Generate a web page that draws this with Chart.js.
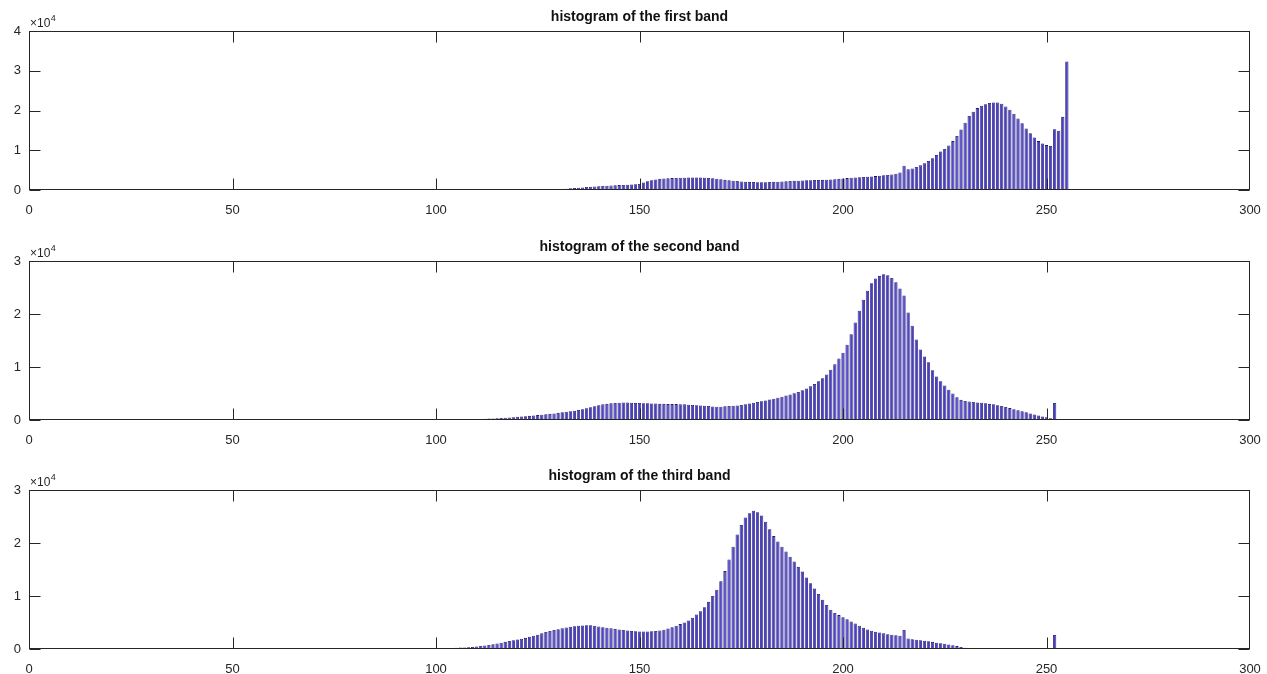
<!DOCTYPE html>
<html>
<head>
<meta charset="utf-8">
<script src="https://cdn.jsdelivr.net/npm/chart.js@4/dist/chart.umd.min.js"></script>
<style>
  html, body { margin: 0; padding: 0; background: #fff; width: 1267px; height: 674px; overflow: hidden; }
  canvas { position: absolute; left: 0; display: block; }
</style>
</head>
<body>
<canvas id="c1" width="1267" height="215" style="top:0px"></canvas>
<canvas id="c2" width="1267" height="215" style="top:230px"></canvas>
<canvas id="c3" width="1267" height="215" style="top:459px"></canvas>
<script>
// ---- data ----
const titles = ["histogram of the first band", "histogram of the second band", "histogram of the third band"];
const xTickLabels = [0, 50, 100, 150, 200, 250, 300];
const yMaxes = [40000, 30000, 30000];

// band 1: values for gray levels starting at band1Start
const band1Start = 127;
const band1Values = [
  80,120,170,220,280,340,420,500,580,660,740,820,900,960,1020,1080,1130,1180,1230,1280,1330,1380,1430, // 127-149
  1500,1900,2200,2450,2650,2800,2900,2950,3000,3050,3100,3100,3150,3150,3150,3150,3100,3050,2950,2850, // 150-169
  2700,2550,2450,2350,2250,2150,2100,2050,2000,1950,1950,1950,2000,2050,2100,2150,2200,2250,2300,2350, // 170-189
  2400,2450,2450,2500,2500,2550,2600,2650,2700,2800,2900,3000,3100,3150,3200,3300,3350,3400,3500,3600, // 190-209
  3700,3800,3900,4100,4400,6100,5200,5400,5800,6200,6700,7300,8000,8800,9700,10300,11200,12300,13600,15200, // 210-229
  16900,18600,19700,20600,21200,21600,21900,22000,22000,21700,21000,20200,19200,18000,16800,15500,14300,13200,12300,11700, // 230-249
  11300,11100,15300,14900,18400,32300 // 250-255
];

const band2Start = 105;
const band2Values = [
  50,80,100,120,150, // 105-109
  180,200,230,260,300,340,380,430,480,540, // 110-119
  600,660,720,780,850,920,1000,1080,1160,1250, // 120-129
  1350,1450,1550,1650,1750,1900,2050,2200,2400,2600, // 130-139
  2800,2950,3050,3150,3200,3250,3300,3300,3250,3200, // 140-149
  3200,3150,3150,3100,3100,3050,3050,3000,3000,3000, // 150-159
  2950,2950,2900,2850,2800,2750,2700,2650,2550,2500, // 160-169
  2500,2600,2650,2700,2750,2850,2950,3100,3250,3400, // 170-179
  3550,3700,3850,4000,4200,4400,4600,4800,5050,5300, // 180-189
  5600,5950,6350,6800,7300,7900,8600,9500,10500,11600, // 190-199
  12700,14200,16200,18400,20600,22700,24400,25800,26700,27200, // 200-209
  27500,27300,26800,26000,24800,23500,20300,17800,15200,13300, // 210-219
  12000,10900,9400,8200,7300,6500,5700,5000,4300,3800, // 220-229
  3600,3500,3400,3300,3250,3150,3050,2950,2800,2650, // 230-239
  2450,2250,2050,1850,1650,1450,1250,1050,850,650, // 240-249
  500,350,3200,150,100,80 // 250-255
];

const band3Start = 95;
const band3Values = [
  30,40,50,60,70, // 95-99
  80,100,120,150,180,220,260,300,350,400, // 100-109
  480,560,650,750,900,1050,1200,1350,1500,1650, // 110-119
  1800,1950,2100,2300,2500,2700,2950,3200,3400,3600, // 120-129
  3750,3900,4050,4200,4300,4400,4450,4500,4500,4400, // 130-139
  4250,4100,4000,3900,3800,3700,3600,3500,3400,3350, // 140-149
  3300,3300,3300,3350,3400,3500,3650,3850,4100,4400, // 150-159
  4700,5000,5400,5900,6500,7100,7900,8900,10000,11200, // 160-169
  12800,14700,16900,19300,21600,23400,24800,25600,26100,25800, // 170-179
  25200,24000,22600,21300,20300,19300,18400,17400,16500,15500, // 180-189
  14600,13500,12400,11400,10400,9300,8300,7400,6800,6400, // 190-199
  6000,5600,5200,4800,4400,4000,3700,3450,3250,3100, // 200-209
  2950,2800,2700,2600,2500,3600,2000,1850,1750,1650, // 210-219
  1550,1450,1350,1200,1100,1000,850,700,550,400, // 220-229
  250,100,0,0,0,0,0,0,0,0, // 230-239
  0,0,0,0,0,0,0,0,0,0, // 240-249
  0,0,2650 // 250-252
];

const starts = [band1Start, band2Start, band3Start];
const bands = [band1Values, band2Values, band3Values];

const INK = '#262626';
const FONT = '"Liberation Sans", Arial, Helvetica, sans-serif';

const matlabAxes = {
  id: 'matlabAxes',
  afterDatasetsDraw(chart, args, opts) {
    const { ctx, chartArea: a, scales } = chart;
    const L = Math.round(a.left) + 0.5, R = Math.round(a.right) - 0.5;
    const T = Math.round(a.top) + 0.5, B = Math.round(a.bottom) - 0.5;
    ctx.save();
    ctx.strokeStyle = INK;
    ctx.lineWidth = 1;
    ctx.strokeRect(L, T, R - L, B - T);
    const tl = 11;
    ctx.beginPath();
    scales.x.ticks.forEach(t => {
      const px = Math.min(Math.round(scales.x.getPixelForValue(t.value)) + 0.5, R);
      ctx.moveTo(px, B); ctx.lineTo(px, B - tl);
      ctx.moveTo(px, T); ctx.lineTo(px, T + tl);
    });
    scales.y.ticks.forEach(t => {
      const py = Math.round(scales.y.getPixelForValue(t.value)) + 0.5;
      ctx.moveTo(L, py); ctx.lineTo(L + tl, py);
      ctx.moveTo(R, py); ctx.lineTo(R - tl, py);
    });
    ctx.stroke();
    // title
    ctx.fillStyle = '#111';
    ctx.font = 'bold 14px ' + FONT;
    ctx.textAlign = 'center';
    ctx.textBaseline = 'alphabetic';
    ctx.fillText(opts.title, (a.left + a.right) / 2, a.top - 10);
    // exponent label
    ctx.fillStyle = INK;
    ctx.textAlign = 'left';
    ctx.font = '12px ' + FONT;
    const base = '\u00d710';
    ctx.fillText(base, a.left + 1, a.top - 4);
    const w = ctx.measureText(base).width;
    ctx.font = '9px ' + FONT;
    ctx.fillText('4', a.left + 1 + w + 0.5, a.top - 10);
    ctx.restore();
  }
};

function makeChart(id, idx) {
  const start = starts[idx];
  const data = bands[idx].map((v, i) => ({ x: start + i, y: v }));
  new Chart(document.getElementById(id), {
    type: 'bar',
    data: {
      datasets: [{
        data: data,
        backgroundColor: '#4a3ec6',
        borderColor: '#1e186c',
        borderWidth: 0.8,
        barPercentage: 0.8,
        categoryPercentage: 1.0
      }]
    },
    options: {
      responsive: false,
      animation: false,
      devicePixelRatio: 1,
      layout: { padding: { top: 31, right: 17, left: 0, bottom: 0 } },
      plugins: {
        legend: { display: false },
        tooltip: { enabled: false },
        matlabAxes: { title: titles[idx] }
      },
      scales: {
        x: {
          type: 'linear',
          offset: false,
          min: xTickLabels[0],
          max: xTickLabels[xTickLabels.length - 1],
          afterBuildTicks: s => { s.ticks = xTickLabels.map(v => ({ value: v })); },
          afterFit: s => { s.height = 25; s.paddingLeft = 0; s.paddingRight = 0; },
          grid: { display: false, drawTicks: false, offset: false },
          border: { display: false },
          ticks: { padding: 13, color: INK, font: { family: FONT, size: 13 }, maxRotation: 0, autoSkip: false }
        },
        y: {
          min: 0,
          max: yMaxes[idx],
          ticks: {
            stepSize: 10000,
            padding: 8,
            color: INK,
            font: { family: FONT, size: 13 },
            callback: v => String(v / 10000)
          },
          afterFit: s => { s.width = 29; s.paddingTop = 0; s.paddingBottom = 0; },
          grid: { display: false, drawTicks: false },
          border: { display: false }
        }
      }
    },
    plugins: [matlabAxes]
  });
}

makeChart('c1', 0);
makeChart('c2', 1);
makeChart('c3', 2);
</script>
</body>
</html>
